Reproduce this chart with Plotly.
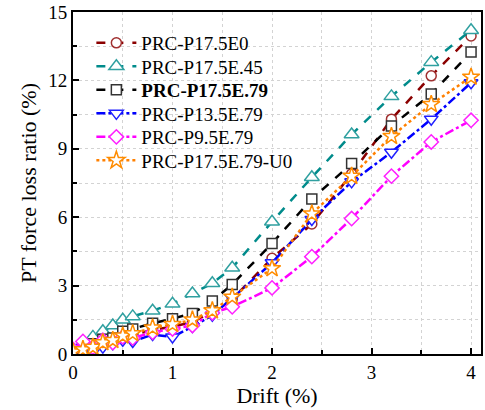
import plotly.graph_objects as go

drift = [0, 0.1, 0.2, 0.3, 0.4, 0.5, 0.6, 0.8, 1.0, 1.2, 1.4, 1.6, 2.0, 2.4, 2.8, 3.2, 3.6, 4.0]

names = ["PRC-P17.5E0", "PRC-P17.5E.45", "<b>PRC-P17.5E.79</b>", "PRC-P13.5E.79", "PRC-P9.5E.79", "PRC-P17.5E.79-U0"]

e0 = [0.1, 0.2, 0.35, 0.5, 0.6, 0.75, 0.85, 1.05, 1.2, 1.4, 1.85, 2.4, 4.2, 5.7, 7.9, 10.3, 12.2, 13.95]
e45 = [0.1, 0.45, 0.75, 1.0, 1.25, 1.5, 1.65, 1.9, 2.2, 2.65, 3.1, 3.78, 5.8, 7.75, 9.63, 11.3, 12.8, 14.2]
e79 = [0.1, 0.25, 0.45, 0.65, 0.7, 1.0, 1.1, 1.35, 1.55, 1.78, 2.33, 3.05, 4.85, 6.8, 8.35, 10.0, 11.4, 13.25]
p135 = [0.1, 0.3, 0.1, 0.3, 0.45, 0.6, 0.55, 0.85, 0.75, 1.2, 1.7, 2.45, 4.0, 5.9, 7.55, 8.85, 10.3, 11.9]
p95 = [0.2, 0.55, 0.3, 0.6, 0.5, 0.75, 0.7, 0.95, 1.1, 1.25, 1.8, 2.07, 2.9, 4.27, 5.94, 7.8, 9.3, 10.25]
u0 = [0.1, 0.2, 0.3, 0.5, 0.6, 0.8, 0.9, 1.15, 1.3, 1.5, 1.9, 2.5, 3.75, 6.15, 7.8, 9.55, 10.95, 12.15]

series = [e0, e45, e79, p135, p95, u0]
line_colors = ["#8B0000", "#008B8B", "#000000", "#0000FF", "#FF00FF", "#FF8000"]
marker_colors = ["#A03030", "#30A0A0", "#333333", "#2020FF", "#FF20FF", "#FF8C00"]
symbols = ["circle", "triangle-up", "square", "triangle-down", "diamond", "star"]
sizes = [10, 13, 10, 12, 11, 13]
dashes = ["dash", "dash", "dash", "dashdot", "dashdot", "dot"]

font = "Liberation Serif"
legend_ids = ["legend", "legend2", "legend3", "legend4", "legend5", "legend6"]
legend_rows_px = [43, 66.5, 90, 113.5, 137, 160.5]
plot_top_px, plot_bottom_px = 12, 354

fig = go.Figure()
for nm, ys, lc, mc, sym, sz, ds, lid in zip(names, series, line_colors, marker_colors, symbols, sizes, dashes, legend_ids):
    fig.add_trace(go.Scatter(
        x=drift, y=ys, name=nm, mode="lines+markers", legend=lid,
        line=dict(color=lc, width=2.5, dash=ds),
        marker=dict(symbol=sym, size=sz, color="white", line=dict(color=mc, width=1.5)),
    ))

legend_layout = {}
for lid, row in zip(legend_ids, legend_rows_px):
    legend_layout[lid] = dict(
        x=0.045, y=(plot_bottom_px - row) / (plot_bottom_px - plot_top_px),
        xanchor="left", yanchor="middle",
        bgcolor="rgba(0,0,0,0)", font=dict(family=font, size=19, color="black"),
        itemwidth=40,
    )

fig.update_layout(
    width=485, height=410,
    margin=dict(l=73, r=2, t=12, b=56),
    plot_bgcolor="white", paper_bgcolor="white",
    font=dict(family=font, size=19, color="black"),
    showlegend=True,
    **legend_layout,
)
fig.update_xaxes(
    range=[0, 4.1], tickmode="linear", tick0=0, dtick=1,
    ticks="inside", ticklen=6, tickwidth=1.5, tickcolor="black",
    showline=True, linecolor="black", linewidth=2, mirror=True,
    showgrid=True, gridcolor="#D3D3D3", griddash="dot", gridwidth=1,
    minor=dict(dtick=0.5, ticks="inside", ticklen=4, tickcolor="black", showgrid=True,
               gridcolor="#D3D3D3", griddash="dot"),
    zeroline=False,
    title=dict(text="Drift (%)", font=dict(family=font, size=22), standoff=2),
    tickfont=dict(family=font, size=19),
)
fig.update_yaxes(
    range=[0, 15], tickmode="linear", tick0=0, dtick=3,
    ticks="inside", ticklen=6, tickwidth=1.5, tickcolor="black",
    showline=True, linecolor="black", linewidth=2, mirror=True,
    showgrid=True, gridcolor="#D3D3D3", griddash="dot", gridwidth=1,
    minor=dict(dtick=1.5, ticks="inside", ticklen=4, tickcolor="black", showgrid=True,
               gridcolor="#D3D3D3", griddash="dot"),
    zeroline=False,
    title=dict(text="PT force loss ratio (%)", font=dict(family=font, size=22), standoff=6),
    tickfont=dict(family=font, size=19),
)
fig.write_html("out.html")
